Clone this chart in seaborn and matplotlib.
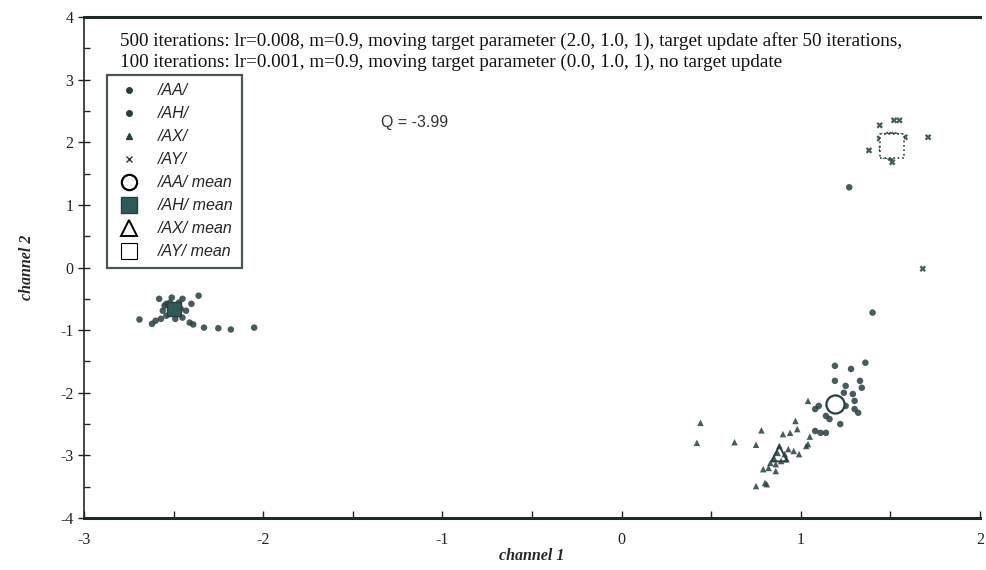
import pandas as pd
import matplotlib
matplotlib.use("Agg")
import matplotlib.pyplot as plt
import seaborn as sns
from matplotlib.lines import Line2D
from matplotlib.ticker import MultipleLocator

# --- data ---
aa_x = [1.19, 1.28, 1.36, 1.33, 1.34, 1.19, 1.25, 1.24, 1.29, 1.30, 1.30, 1.25,
        1.14, 1.10, 1.22, 1.08, 1.16, 1.11, 1.14, 1.08, 1.32, 1.27, 1.40]
aa_y = [-1.57, -1.62, -1.52, -1.81, -1.92, -1.81, -1.89, -2.00, -2.02, -2.13, -2.26, -2.21,
        -2.37, -2.21, -2.50, -2.26, -2.42, -2.64, -2.64, -2.61, -2.32, 1.28, -0.72]

ah_x = [-2.69, -2.62, -2.36, -2.39, -2.33, -2.25, -2.18, -2.05,
        -2.58, -2.55, -2.52, -2.50, -2.47, -2.45, -2.54, -2.51, -2.48, -2.45, -2.43,
        -2.56, -2.60, -2.57, -2.41, -2.40, -2.51, -2.49, -2.46, -2.54, -2.52]
ah_y = [-0.83, -0.90, -0.45, -0.91, -0.96, -0.97, -0.99, -0.96,
        -0.50, -0.61, -0.56, -0.64, -0.56, -0.50, -0.77, -0.72, -0.74, -0.80, -0.69,
        -0.69, -0.85, -0.82, -0.88, -0.58, -0.48, -0.82, -0.66, -0.58, -0.66]

ax_x = [0.44, 0.42, 0.63, 0.75, 0.78, 0.75, 0.81, 0.79, 1.04, 0.97, 0.98, 0.94,
        0.90, 1.05, 1.04, 0.96, 0.99, 1.03, 0.88, 0.87, 0.91, 0.93, 0.85, 0.83,
        0.86, 0.86, 0.89, 0.92, 0.82, 0.80]
ax_y = [-2.48, -2.80, -2.79, -2.83, -2.60, -3.49, -3.46, -3.22, -2.13, -2.45, -2.58, -2.64,
        -2.66, -2.70, -2.82, -2.93, -2.98, -2.85, -2.85, -2.96, -2.98, -2.90, -3.04, -3.12,
        -3.14, -3.25, -3.09, -3.06, -3.20, -3.44]

ay_x = [1.71, 1.44, 1.52, 1.55, 1.38, 1.44, 1.51, 1.68, 1.46, 1.49, 1.52, 1.55,
        1.58, 1.47, 1.50, 1.53, 1.56, 1.48, 1.45, 1.47, 1.50]
ay_y = [2.08, 2.27, 2.35, 2.35, 1.87, 2.06, 1.68, -0.02, 2.10, 2.12, 2.12, 2.10,
        2.08, 2.02, 2.05, 2.05, 2.02, 1.95, 1.90, 1.78, 1.75]

phonemes = ["/AA/", "/AH/", "/AX/", "/AY/"]
mean_x = [1.19, -2.50, 0.88, 1.51]
mean_y = [-2.18, -0.66, -2.97, 1.94]

header = ("500 iterations: lr=0.008, m=0.9, moving target parameter (2.0, 1.0, 1), "
          "target update after 50 iterations,\n"
          "100 iterations: lr=0.001, m=0.9, moving target parameter (0.0, 1.0, 1), "
          "no target update")
q_text = "Q = -3.99"

df = pd.DataFrame({
    "x": aa_x + ah_x + ax_x + ay_x,
    "y": aa_y + ah_y + ax_y + ay_y,
    "phoneme": (["/AA/"] * len(aa_x) + ["/AH/"] * len(ah_x)
                + ["/AX/"] * len(ax_x) + ["/AY/"] * len(ay_x)),
})

ink = "#263f40"
serif = ["Liberation Serif", "DejaVu Serif"]
sans = ["Liberation Sans", "DejaVu Sans"]

sns.set_style("ticks")
plt.rcParams["font.family"] = serif
plt.rcParams["axes.unicode_minus"] = False

fig = plt.figure(figsize=(9.87, 5.70), dpi=100)
ax = fig.add_axes([0.085, 0.0912, 0.908, 0.879])

marker_map = {"/AA/": "o", "/AH/": "o", "/AX/": "^", "/AY/": "X"}
sns.scatterplot(data=df, x="x", y="y", style="phoneme", markers=marker_map,
                color=ink, s=22, linewidth=0, alpha=0.85, legend=False, ax=ax)

# class means
ax.scatter(mean_x[0], mean_y[0], marker="o", s=170, facecolor="white", edgecolor=ink,
           linewidth=1.6, zorder=3)
ax.scatter(mean_x[1], mean_y[1], marker="s", s=90, facecolor="#2e5a5a", edgecolor=ink,
           linewidth=1.0, zorder=3)
ax.scatter(mean_x[2], mean_y[2], marker="^", s=130, facecolor="none", edgecolor=ink,
           linewidth=1.4, zorder=3)
ax.scatter(mean_x[3], mean_y[3], marker="s", s=300, facecolor="white", edgecolor=ink,
           linewidth=1.2, linestyle=":", zorder=3)

ax.set_xlim(-3, 2)
ax.set_ylim(-4, 4)
ax.xaxis.set_major_locator(MultipleLocator(1))
ax.xaxis.set_minor_locator(MultipleLocator(0.5))
ax.yaxis.set_major_locator(MultipleLocator(1))
ax.yaxis.set_minor_locator(MultipleLocator(0.5))
ax.tick_params(axis="x", which="both", direction="in", length=5, width=1, labelsize=11.5,
               pad=10, colors="#222222")
ax.tick_params(axis="y", which="major", direction="inout", length=8, width=1, labelsize=11.5,
               colors="#222222")
ax.tick_params(axis="y", which="minor", direction="in", length=4, width=1)

ax.spines["right"].set_visible(False)
ax.spines["top"].set_linewidth(2.2)
ax.spines["bottom"].set_linewidth(2.2)
ax.spines["left"].set_linewidth(1.2)
for s in ax.spines.values():
    s.set_color("#1e2a2a")

ax.set_xlabel("channel 1", fontsize=11.5, fontweight="bold", style="italic", labelpad=0)
ax.set_ylabel("channel 2", fontsize=11.5, fontweight="bold", style="italic", labelpad=18)

ax.text(0.04, 0.97, header, transform=ax.transAxes, ha="left", va="top",
        fontsize=13.8, linespacing=1.25, color="#111111")
ax.text(0.332, 0.79, q_text, transform=ax.transAxes, ha="left", va="center",
        fontsize=11.5, family=sans, color="#333333")

handles = [
    Line2D([], [], marker="o", ls="none", color=ink, ms=4),
    Line2D([], [], marker="o", ls="none", color=ink, ms=4),
    Line2D([], [], marker="^", ls="none", color=ink, ms=4),
    Line2D([], [], marker="x", ls="none", color=ink, ms=4, mew=1),
    Line2D([], [], marker="o", ls="none", mfc="white", mec="black", ms=11, mew=1.6),
    Line2D([], [], marker="s", ls="none", mfc="#2e5a5a", mec=ink, ms=11),
    Line2D([], [], marker="^", ls="none", mfc="white", mec="black", ms=11, mew=1.4),
    Line2D([], [], marker="s", ls="none", mfc="white", mec="black", ms=11, mew=0.8),
]
labels = phonemes + [p + " mean" for p in phonemes]
leg = ax.legend(handles, labels, loc="upper left", bbox_to_anchor=(0.026, 0.885),
                frameon=True, fancybox=False, borderpad=0.55, labelspacing=0.5,
                handletextpad=1.0, handlelength=1.6, borderaxespad=0,
                prop={"family": sans, "style": "italic", "size": 11.5})
leg.get_frame().set_edgecolor("#1e2a2a")
leg.get_frame().set_linewidth(1.6)

fig.savefig("out.png", dpi=100)
